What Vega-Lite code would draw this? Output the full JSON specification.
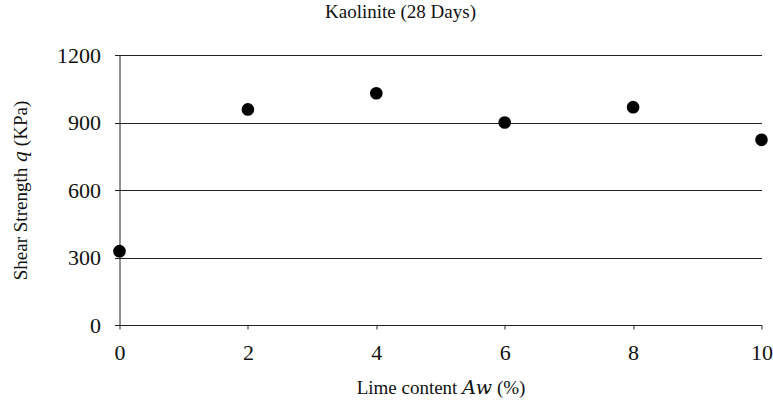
{
  "$schema": "https://vega.github.io/schema/vega-lite/v6.json",
  "autosize": "none",
  "width": 642,
  "height": 270,
  "padding": {"left": 119.5, "top": 55, "right": 11.5, "bottom": 84},
  "background": "white",
  "title": {
    "text": "Kaolinite (28 Days)",
    "anchor": "middle",
    "dx": -40
  },
  "config": {
    "view": {"stroke": null},
    "font": "'Liberation Serif', 'DejaVu Serif', serif",
    "title": {
      "font": "'Liberation Serif', 'DejaVu Serif', serif",
      "fontSize": 19,
      "fontWeight": "normal",
      "color": "#111",
      "offset": 22
    }
  },
  "data": {
    "values": [
      {"lime": 0, "q": 328},
      {"lime": 2, "q": 958},
      {"lime": 4, "q": 1030},
      {"lime": 6, "q": 900},
      {"lime": 8, "q": 968},
      {"lime": 10, "q": 823}
    ]
  },
  "mark": {"type": "point", "filled": true, "shape": "circle", "size": 160, "color": "black", "opacity": 1},
  "encoding": {
    "x": {
      "field": "lime",
      "type": "quantitative",
      "scale": {"domain": [0, 10], "nice": false, "zero": false},
      "axis": {
        "values": [0, 2, 4, 6, 8, 10],
        "format": "d",
        "grid": false,
        "domain": true,
        "domainColor": "#222",
        "tickColor": "#222",
        "tickSize": 4,
        "labelFont": "'Liberation Serif', 'DejaVu Serif', serif",
        "labelFontSize": 22,
        "labelColor": "#111",
        "labelPadding": 13,
        "labelFlush": false,
        "title": "Lime content 𝐴𝑤 (%)",
        "titleFont": "'Liberation Serif', 'DejaVu Serif', serif",
        "titleFontSize": 19,
        "titleFontWeight": "normal",
        "titleColor": "#111",
        "titlePadding": 15
      }
    },
    "y": {
      "field": "q",
      "type": "quantitative",
      "scale": {"domain": [0, 1200], "nice": false},
      "axis": {
        "values": [0, 300, 600, 900, 1200],
        "format": "d",
        "grid": true,
        "gridColor": "#222",
        "gridWidth": 1,
        "domain": true,
        "domainColor": "#222",
        "tickColor": "#222",
        "tickSize": 5,
        "labelFont": "'Liberation Serif', 'DejaVu Serif', serif",
        "labelFontSize": 22,
        "labelColor": "#111",
        "labelPadding": 14,
        "title": "Shear Strength 𝑞 (KPa)",
        "titleFont": "'Liberation Serif', 'DejaVu Serif', serif",
        "titleFontSize": 19,
        "titleFontWeight": "normal",
        "titleColor": "#111",
        "titlePadding": 26
      }
    }
  }
}
